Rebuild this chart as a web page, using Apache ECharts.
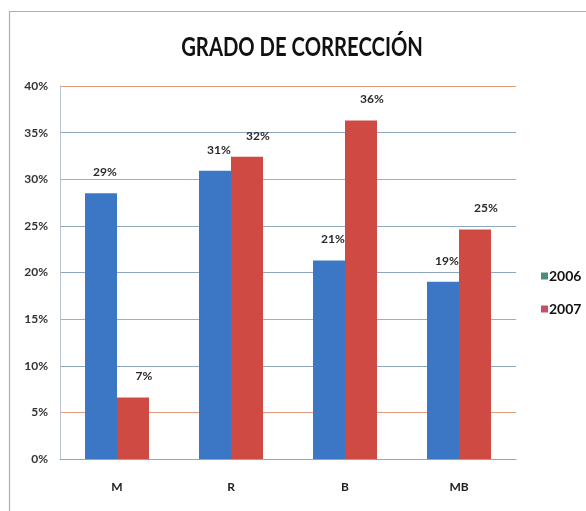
<!DOCTYPE html>
<html>
<head>
<meta charset="utf-8">
<script src="https://cdn.jsdelivr.net/npm/echarts@6/dist/echarts.min.js"></script>
<style>
  html, body { margin: 0; padding: 0; background: #fff; }
  #main { width: 586px; height: 511px; }
</style>
</head>
<body>
<div id="main"></div>
<script>
// datos
var categorias = ['M', 'R', 'B', 'MB'];
var anios = ['2006', '2007'];
var valores2006 = [28.5, 30.9, 21.3, 19.0];
var valores2007 = [6.6, 32.4, 36.3, 24.6];
var ticksY = [0, 5, 10, 15, 20, 25, 30, 35, 40];
var titulo = 'GRADO DE CORRECCIÓN';

var font = "Lato, 'Open Sans', sans-serif";

var chart = echarts.init(document.getElementById('main'), null, { renderer: 'canvas' });

function etiqueta(offsetX) {
  return {
    show: true,
    position: 'top',
    distance: 15,
    offset: [offsetX, 0],
    fontFamily: font,
    fontSize: 12,
    fontWeight: 'bold',
    color: '#2a2a2a',
    formatter: function (p) { return Math.round(p.value) + '%'; }
  };
}

var option = {
  backgroundColor: '#fff',
  animation: false,
  graphic: [{
    type: 'rect',
    shape: { x: 9.5, y: 11.5, width: 600, height: 520 },
    style: { fill: 'none', stroke: '#9fb2c6', lineWidth: 1.2 },
    silent: true
  }, {
    // titulo estrecho como en el original
    type: 'text',
    x: 302,
    y: 47,
    scaleX: 0.75,
    style: {
      text: titulo,
      fontFamily: font,
      fontSize: 27,
      fontWeight: 'bold',
      fill: '#111',
      align: 'center',
      verticalAlign: 'middle'
    },
    silent: true
  }],
  legend: {
    orient: 'vertical',
    left: 536,
    top: 264,
    itemWidth: 7,
    itemHeight: 7,
    itemGap: 19,
    icon: 'rect',
    textStyle: {
      fontFamily: font,
      fontSize: 14,
      fontWeight: 'bold',
      color: '#111',
      padding: [0, 0, 0, -4]
    },
    data: [
      { name: anios[0], itemStyle: { color: '#4d8c7e' } },
      { name: anios[1], itemStyle: { color: '#c45068' } }
    ]
  },
  grid: {
    left: 60,
    right: 70,
    top: 86,
    bottom: 52
  },
  xAxis: {
    type: 'category',
    data: categorias,
    axisTick: { show: false },
    axisLine: { show: true, lineStyle: { color: '#8ea6c0', width: 1 } },
    axisLabel: {
      margin: 22,
      fontFamily: font,
      fontSize: 12,
      fontWeight: 'bold',
      color: '#222'
    }
  },
  yAxis: {
    type: 'value',
    min: ticksY[0],
    max: ticksY[ticksY.length - 1],
    interval: 5,
    axisLine: { show: true, lineStyle: { color: '#b8c6d4' } },
    axisTick: { show: false },
    axisLabel: {
      margin: 12,
      fontFamily: font,
      fontSize: 12,
      fontWeight: 'bold',
      color: '#333',
      formatter: function (v) { return v + '%'; }
    },
    splitLine: {
      show: true,
      lineStyle: {
        width: 1,
        color: ['#8ea6c0', '#e39a7c', '#8ea6c0', '#e39a7c', '#8ea6c0',
                '#8ea6c0', '#e39a7c', '#8ea6c0', '#e39a7c']
      }
    }
  },
  series: [{
    name: anios[0],
    type: 'bar',
    data: valores2006,
    barWidth: 32,
    barGap: '0%',
    itemStyle: { color: '#3c77c5' },
    label: etiqueta(4)
  }, {
    name: anios[1],
    type: 'bar',
    data: valores2007,
    barWidth: 32,
    itemStyle: { color: '#cf4a42' },
    label: etiqueta(11)
  }]
};

chart.setOption(option);
</script>
</body>
</html>
